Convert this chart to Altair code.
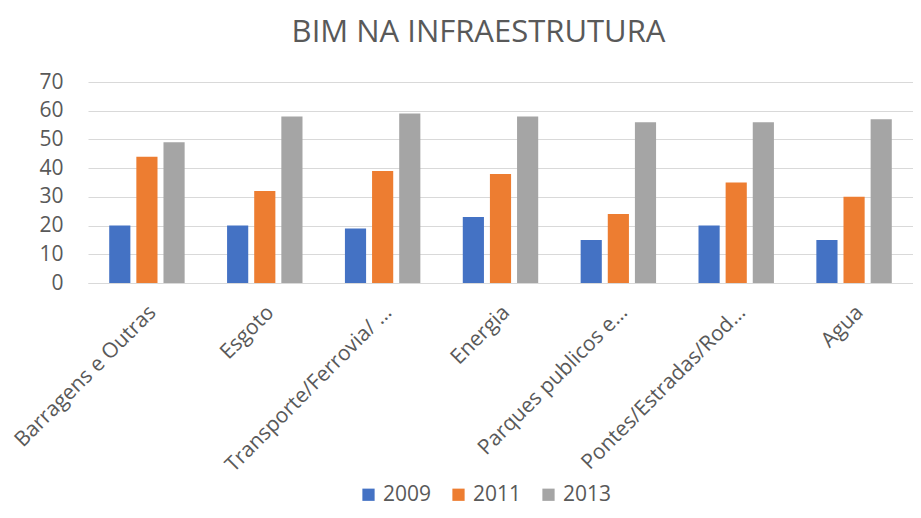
import altair as alt
import pandas as pd

categories = ["Barragens e Outras", "Esgoto", "Transporte/Ferrovia/ …", "Energia",
              "Parques publicos e…", "Pontes/Estradas/Rod…", "Agua"]
series = ["2009", "2011", "2013"]
v2009 = [20, 20, 19, 23, 15, 20, 15]
v2011 = [44, 32, 39, 38, 24, 35, 30]
v2013 = [49, 58, 59, 58, 56, 56, 57]
colors = ["#4472C4", "#ED7D31", "#A5A5A5"]

rows = []
for i, c in enumerate(categories):
    for s, vals in zip(series, [v2009, v2011, v2013]):
        rows.append({"cat": c, "ano": s, "valor": vals[i]})
df = pd.DataFrame(rows)

FONT = "Open Sans"
GRAY = "#595959"

chart = alt.Chart(df).mark_bar().encode(
    x=alt.X("cat:N", sort=categories, title=None,
            scale=alt.Scale(paddingInner=0.36, paddingOuter=0.18),
            axis=alt.Axis(labelAngle=-45, labelAlign="right", labelBaseline="middle",
                          labelFontSize=21, labelColor=GRAY, labelFont=FONT,
                          ticks=False, domain=True, domainColor="#D9D9D9",
                          labelPadding=26, labelOffset=6, labelLimit=400)),
    xOffset=alt.XOffset("ano:N", sort=series,
                        scale=alt.Scale(paddingInner=0.22, paddingOuter=0)),
    y=alt.Y("valor:Q", title=None,
            scale=alt.Scale(domain=[0, 70]),
            axis=alt.Axis(values=[0, 10, 20, 30, 40, 50, 60, 70], labelFontSize=21,
                          labelColor=GRAY, labelFont=FONT, ticks=False, domain=False,
                          gridColor="#D9D9D9", gridWidth=1, labelPadding=25)),
    color=alt.Color("ano:N", sort=series,
                    scale=alt.Scale(domain=series, range=colors),
                    legend=alt.Legend(title=None, orient="none", direction="horizontal",
                                      legendX=270, legendY=402,
                                      symbolType="square", symbolSize=150,
                                      symbolStrokeWidth=0,
                                      labelFontSize=21, labelColor=GRAY, labelFont=FONT,
                                      columnPadding=16, labelOffset=4)),
).properties(
    width=825,
    height=201,
    title=alt.TitleParams("BIM NA INFRAESTRUTURA", fontSize=31, font=FONT,
                          color=GRAY, fontWeight="normal", anchor="middle",
                          offset=22, dx=-22),
    autosize=alt.AutoSizeParams(type="none"),
    padding={"left": 80, "top": 74, "right": 0, "bottom": 227},
).configure_view(stroke=None)

chart.save("out.html", embed_options={"renderer": "svg", "actions": False})
